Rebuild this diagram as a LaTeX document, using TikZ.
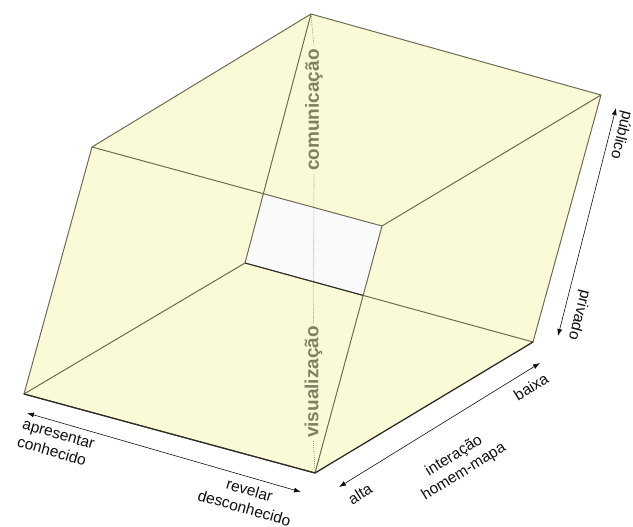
\documentclass[tikz,border=0pt]{standalone}
\usepackage{fontspec}
\setmainfont{Liberation Sans}
\usetikzlibrary{arrows.meta}
\definecolor{cream}{RGB}{250,250,214}
\definecolor{holew}{RGB}{250,250,252}
\definecolor{edge}{RGB}{108,108,86}
\definecolor{edgedark}{RGB}{45,45,38}
\definecolor{lbl}{RGB}{128,128,102}
\definecolor{ink}{RGB}{15,15,15}
\begin{document}
\begin{tikzpicture}[x=1pt,y=-1pt,
 edgeline/.style={draw=edge, line width=1pt, line join=round},
 darkedge/.style={draw=edgedark, line width=1.3pt, line cap=round},
 axisarrow/.style={draw=ink, line width=0.6pt, {Latex[length=7pt,width=5pt]}-{Latex[length=7pt,width=5pt]}},
 inlabel/.style={text=lbl, font=\bfseries\fontsize{19}{19}\selectfont, inner sep=3pt, rotate=90},
 outlabel/.style={text=ink, font=\fontsize{15.5}{18.5}\selectfont, inner sep=0pt},
 dotline/.style={draw=lbl, line width=0.6pt, dash pattern=on 0.8pt off 1.2pt}
]
\useasboundingbox (0,0) rectangle (633,527);
% outer hexagon
\coordinate (T)  at (311,14);
\coordinate (TR) at (601,95);
\coordinate (BR) at (533,342);
\coordinate (B)  at (315,473);
\coordinate (BL) at (24,394);
\coordinate (TL) at (92,147);
% inner corners
\coordinate (ITR) at (382,226);
\coordinate (IBL) at (245,263);
\coordinate (ITL) at (intersection of T--IBL and TL--ITR);
\coordinate (IBR) at (intersection of ITR--B and IBL--BR);
% fills
\fill[cream] (T) -- (TR) -- (BR) -- (B) -- (BL) -- (TL) -- cycle;
\fill[holew] (ITL) -- (ITR) -- (IBR) -- (IBL) -- cycle;
% labels inside
\node[inlabel] (com) at (314,110) {comunicação};
\node[inlabel] (vis) at (313.5,382) {visualização};
\draw[dotline] (T) -- (com.east);
\draw[dotline] (com.west) -- (vis.east);
\draw[dotline] (vis.west) -- (B);
% edges
\draw[edgeline] (T) -- (TR) -- (BR);
\draw[edgeline] (B) -- (BL);
\draw[edgeline] (BL) -- (TL) -- (T);
\draw[edgeline] (T) -- (IBL);
\draw[edgeline] (TL) -- (ITR);
\draw[edgeline] (ITR) -- (TR);
\draw[edgeline] (ITR) -- (B);
\draw[edgeline] (IBL) -- (BL);
\draw[edgeline] (IBL) -- (BR);
\draw[darkedge] (BL) -- (B) -- (BR);
\draw[draw=edgedark, line width=1pt] (IBL) -- (IBR);
% axis arrows
\coordinate (a1) at (27,413);
\coordinate (a2) at (301,492);
\coordinate (b1) at (339,487);
\coordinate (b2) at (540,363);
\coordinate (c1) at (616,108);
\coordinate (c2) at (558,336);
\draw[axisarrow] (a1) -- (a2);
\draw[axisarrow] (b1) -- (b2);
\draw[axisarrow] (c1) -- (c2);
% axis labels
\node[outlabel, rotate=-16, align=left] (apr) at (56,443) {apresentar\\conhecido};
\node[outlabel, rotate=-16, align=center] (rev) at (247,499) {revelar\\desconhecido};
\node[outlabel, rotate=31.8] (alta) at (360,494) {alta};
\node[outlabel, rotate=31.8, align=center] (inter) at (459,464) {interação\\homem-mapa};
\node[outlabel, rotate=31.8] (baixa) at (531,387) {baixa};
\node[outlabel, rotate=-104.3] (pub) at (621,135) {público};
\node[outlabel, rotate=-104.3] (priv) at (579,315) {privado};
\end{tikzpicture}
\end{document}
